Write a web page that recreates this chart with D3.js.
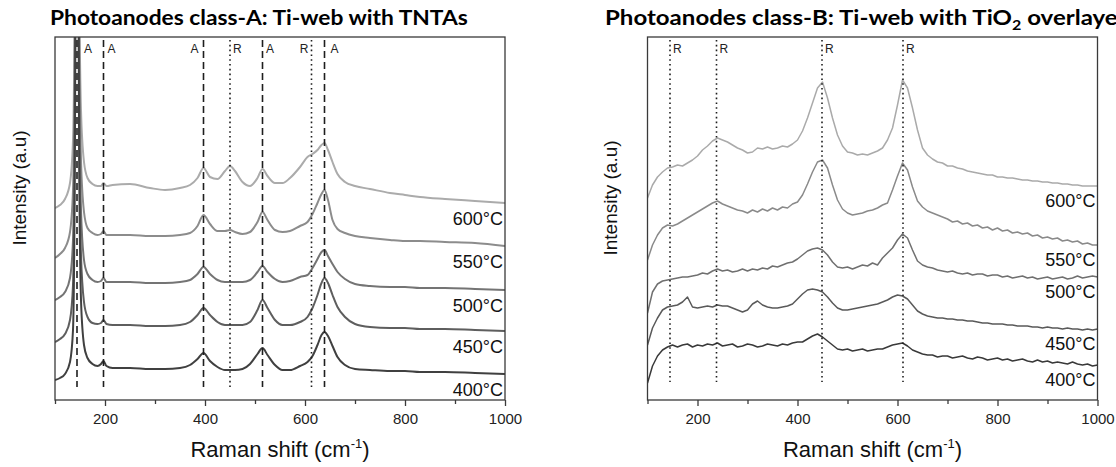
<!DOCTYPE html>
<html>
<head>
<meta charset="utf-8">
<script src="https://cdn.jsdelivr.net/npm/d3@7"></script>
<style>
  html, body { margin: 0; padding: 0; background: #fff; }
  svg { display: block; }
</style>
</head>
<body>
<svg id="chart" width="1116" height="467"></svg>
<script>
// ---------------- Data ----------------
// Raman shift (cm^-1) sampling for the class-A spectra (TNTAs)
const shiftA = [100,110,120,130,136,140,144,148,152,158,165,175,185,192,197,203,215,250,290,320,350,370,385,397,410,425,440,450,460,475,490,505,515,525,540,555,570,590,605,615,625,633,639,646,655,665,680,700,730,770,800,830,880,940,1000];

// Stacked intensities (a.u.) of class-A, one array per annealing temperature
const intensA600 = [192,195,201,217,260,450,1100,450,290,238,222,216,214,214,217,214,215,216,212,210,212,215,222,232,223,221,229,234,229,218,214,222,231,224,217,217,222,233,243,246,250,255,257,250,238,226,218,214,211,207,205,203,201,199,197];
const intensA550 = [142,146,152,168,210,400,1050,400,240,188,172,167,165,166,169,165,165,165,164,164,165,167,174,185,176,169,169,170,168,166,168,178,188,180,170,168,169,174,178,186,197,206,210,200,180,171,167,164,162,160,159,159,158,157,154];
const intensA500 = [100,103,108,122,160,360,1000,360,190,140,126,120,118,119,122,118,118,118,117,117,118,120,126,133,126,120,118,118,118,118,120,128,134,128,121,118,119,123,125,132,141,148,150,144,136,128,121,116,114,113,113,112,112,111,110];
const intensA450 = [58,61,66,80,115,320,950,320,145,98,83,77,76,77,80,76,75,75,74,74,75,78,85,92,85,78,75,75,75,75,78,90,100,92,80,75,75,78,83,92,105,117,122,117,105,93,83,76,73,72,72,71,71,70,69];
const intensA400 = [20,22,26,38,70,270,900,270,100,55,42,36,34,36,39,34,32,32,31,31,32,35,41,47,39,33,30,30,30,31,36,46,52,45,35,30,30,34,38,44,55,65,68,64,54,43,35,31,30,29,29,28,28,27,26];

// Raman shift (cm^-1) sampling for the class-B spectra (TiO2 overlayer)
const shiftB = [100,110,120,130,140,150,160,170,180,190,200,210,220,230,240,250,260,270,280,290,300,310,320,330,340,350,360,370,380,390,400,410,420,430,440,450,460,470,480,490,500,510,520,530,540,550,560,570,580,590,600,610,620,630,640,650,660,670,680,690,700,710,720,730,740,750,760,770,780,790,800,810,820,830,840,850,860,870,880,890,900,910,920,930,940,950,960,970,980,990,1000];

const intensB600 = [202,215,223,228,232,233,235,234,237,240, 244,250,254,259,262,260,258,255,252,250, 247,248,252,251,253,251,252,254,253,256, 260,269,282,297,312,318,302,282,265,254, 248,247,245,246,245,247,249,252,260,272, 295,320,312,292,270,252,245,241,238,237, 234,234,232,231,229,228,227,226,225,225, 223,223,222,222,221,220,220,219,219,218, 218,217,217,216,216,215,215,214,214,214, 214];
const intensB550 = [140,155,165,172,175,174,176,179,182,185, 188,191,194,197,199,196,194,192,190,189, 187,190,188,191,189,192,190,193,192,196, 198,205,216,228,238,240,232,215,200,191, 187,185,186,187,189,190,192,195,197,210, 224,237,230,213,199,193,189,187,185,183, 181,178,179,176,177,174,175,172,173,170, 172,169,170,167,168,166,167,164,165,162, 163,161,162,159,160,158,159,156,157,155, 155];
const intensB500 = [87,108,116,119,120,121,122,123,123,124, 125,127,126,129,131,129,130,128,129,131, 129,131,130,132,131,134,133,135,137,138, 141,145,149,151,152,150,145,138,133,132, 133,131,133,135,134,137,135,142,147,152, 160,166,162,150,139,135,133,132,130,129, 128,129,127,126,127,125,126,126,124,125, 125,123,124,122,123,124,122,123,121,122, 123,121,122,123,121,122,124,122,123,124, 123];
const intensB450 = [55,72,82,90,93,94,95,98,103,93, 92,93,94,93,95,94,94,92,90,88, 90,96,99,95,93,92,92,93,94,96, 101,106,110,111,110,108,103,97,92,90, 90,91,92,93,94,95,96,98,100,103, 105,104,101,95,89,86,84,83,82,82, 81,81,80,80,79,79,78,77,77,76, 76,76,75,75,74,74,74,73,73,72, 73,72,72,71,72,71,71,70,71,70, 71];
const intensB400 = [17,34,44,50,53,55,53,55,56,53, 55,54,56,55,57,54,55,56,53,54, 56,55,53,54,56,55,54,56,55,57, 58,58,61,64,66,63,59,55,51,50, 51,49,50,51,49,50,51,51,53,55, 56,57,54,50,48,46,45,45,43,44, 44,42,43,44,42,41,43,42,40,41, 42,40,41,39,40,41,39,38,40,38, 39,37,38,37,36,38,36,35,36,34, 35];

const temperatures = ["600°C", "550°C", "500°C", "450°C", "400°C"];

// Phase reference positions (A = anatase, R = rutile)
const peaksA  = [144, 197, 397, 450, 515, 613, 639];
const phasesA = ["A", "A", "A", "R", "A", "R", "A"];
const peaksB  = [145, 238, 449, 611];
const phasesB = ["R", "R", "R", "R"];

const majorTicks = [200, 400, 600, 800, 1000];
const minorTicks = [100, 300, 500, 700, 900];

// ---------------- Layout ----------------
const svg = d3.select("#chart");
const SANS = "'Liberation Sans', Arimo, Arial, Helvetica, sans-serif";
const TITLE_FONT = "Lato, 'Open Sans', 'Noto Sans', sans-serif";
const plotTop = 37, plotBottom = 400;

function drawPanel(cfg) {
  const g = svg.append("g");
  const x = d3.scaleLinear().domain([100, 1000]).range([cfg.left, cfg.right]);
  const y = d3.scaleLinear().domain([0, 363]).range([plotBottom, plotTop]);

  const clipId = cfg.id + "-clip";
  svg.append("clipPath").attr("id", clipId).append("rect")
    .attr("x", cfg.left).attr("y", plotTop)
    .attr("width", cfg.right - cfg.left).attr("height", plotBottom - plotTop);

  // spectra
  const curves = g.append("g").attr("clip-path", `url(#${clipId})`);
  const line = d3.line()
    .x((d, i) => x(cfg.shift[i]))
    .y(d => y(d))
    .curve(cfg.curve);
  cfg.series.forEach((s, i) => {
    curves.append("path")
      .attr("d", line(s))
      .attr("fill", "none")
      .attr("stroke", cfg.colors[i])
      .attr("stroke-width", cfg.lineWidth)
      .attr("stroke-linejoin", "round");
  });

  // phase reference lines with labels
  const ref = g.append("g");
  cfg.peaks.forEach((p, i) => {
    const rutile = cfg.phases[i] === "R";
    ref.append("line")
      .attr("x1", x(p)).attr("x2", x(p))
      .attr("y1", 40).attr("y2", cfg.refBottom)
      .attr("stroke", "#1e1e1e")
      .attr("stroke-width", 1.6)
      .attr("stroke-dasharray", rutile ? "1.6,3.2" : "7,4");
    const dx = cfg.labelDx[i];
    ref.append("text")
      .attr("x", x(p) + dx).attr("y", 53)
      .attr("text-anchor", dx > 0 ? "start" : "end")
      .style("font-family", SANS).style("font-size", "12px").style("fill", "#222")
      .text(cfg.phases[i]);
  });

  // temperature labels, right-aligned below each spectrum's tail
  cfg.series.forEach((s, i) => {
    g.append("text")
      .attr("x", cfg.right - 2)
      .attr("y", y(s[s.length - 1]) + cfg.labelGap)
      .attr("text-anchor", "end")
      .style("font-family", SANS).style("font-size", "18px").style("fill", "#111")
      .text(temperatures[i]);
  });

  // frame
  g.append("rect")
    .attr("x", cfg.left).attr("y", plotTop)
    .attr("width", cfg.right - cfg.left).attr("height", plotBottom - plotTop)
    .attr("fill", "none").attr("stroke", "#3a3a3a").attr("stroke-width", 1.3);

  // x axis: labelled major ticks and short minor ticks
  const axisG = g.append("g").attr("transform", `translate(0,${plotBottom})`);
  axisG.append("g")
    .call(d3.axisBottom(x).tickValues(majorTicks).tickSize(6).tickPadding(7).tickFormat(d3.format("d")))
    .call(a => a.select(".domain").remove())
    .call(a => a.selectAll("line").attr("stroke", "#3a3a3a").attr("stroke-width", 1.3))
    .call(a => a.selectAll("text").style("font-family", SANS).style("font-size", "15px").style("fill", "#222"));
  axisG.append("g")
    .call(d3.axisBottom(x).tickValues(minorTicks).tickSize(4).tickFormat(""))
    .call(a => a.select(".domain").remove())
    .call(a => a.selectAll("line").attr("stroke", "#3a3a3a").attr("stroke-width", 1.3));

  // x axis title
  const xt = g.append("text")
    .attr("x", (cfg.left + cfg.right) / 2).attr("y", 457)
    .attr("text-anchor", "middle")
    .style("font-family", SANS).style("font-size", "22px").style("fill", "#111");
  xt.append("tspan").text("Raman shift (cm");
  xt.append("tspan").attr("dy", -9).style("font-size", "13px").text("-1");
  xt.append("tspan").attr("dy", 9).text(")");

  // y axis title
  g.append("text")
    .attr("transform", `translate(${cfg.yTitleX},${cfg.yTitleY}) rotate(-90)`)
    .attr("text-anchor", "middle")
    .style("font-family", SANS).style("font-size", "19px").style("fill", "#111")
    .text("Intensity (a.u)");
}

drawPanel({
  id: "classA", left: 55, right: 505,
  shift: shiftA,
  series: [intensA600, intensA550, intensA500, intensA450, intensA400],
  colors: ["#ababab", "#8c8c8c", "#747474", "#5e5e5e", "#404040"],
  lineWidth: 2,
  curve: d3.curveMonotoneX,
  peaks: peaksA, phases: phasesA,
  labelDx: [7, 4, -5, 3, 3.5, -3, 6],
  refBottom: 387,
  labelGap: 22,
  yTitleX: 26, yTitleY: 188
});

drawPanel({
  id: "classB", left: 647.5, right: 1097.5,
  shift: shiftB,
  series: [intensB600, intensB550, intensB500, intensB450, intensB400],
  colors: ["#aaaaaa", "#8a8a8a", "#707070", "#5a5a5a", "#3a3a3a"],
  lineWidth: 1.5,
  curve: d3.curveLinear,
  peaks: peaksB, phases: phasesB,
  labelDx: [3, 3, 3, 3, 3],
  refBottom: 382,
  labelGap: 21,
  yTitleX: 617, yTitleY: 198
});

// ---------------- Titles ----------------
const titleA = svg.append("text")
  .style("font-family", TITLE_FONT).style("font-weight", 700).style("font-size", "21px").style("fill", "#000")
  .text("Photoanodes class-A: Ti-web with TNTAs");
const scaleA = 418 / titleA.node().getComputedTextLength();
titleA.attr("transform", `translate(50,25) scale(${scaleA},1)`);

const titleB = svg.append("text")
  .style("font-family", TITLE_FONT).style("font-weight", 700).style("font-size", "21px").style("fill", "#000");
titleB.append("tspan").text("Photoanodes class-B: Ti-web with TiO");
titleB.append("tspan").attr("dy", 5).style("font-size", "14px").text("2");
titleB.append("tspan").attr("dy", -5).text(" overlayer");
// the title runs past the right edge of the figure, ending just after "overlaye"
const scaleB = 522 / titleB.node().getComputedTextLength();
titleB.attr("transform", `translate(605,25) scale(${scaleB},1)`);
</script>
</body>
</html>
